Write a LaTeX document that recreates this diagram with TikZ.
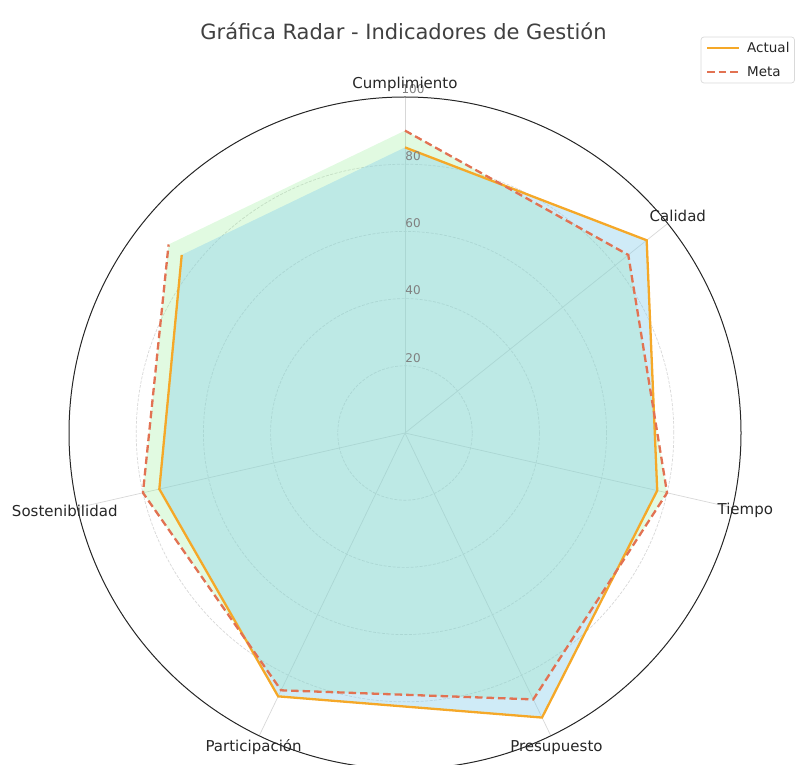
\documentclass[tikz,border=0pt]{standalone}
\usepackage{fontspec}
\setmainfont{DejaVu Sans}
\definecolor{actualc}{RGB}{245,168,40}
\definecolor{metac}{RGB}{226,114,82}
\definecolor{bluef}{RGB}{135,206,235}
\definecolor{greenf}{RGB}{144,238,144}
\definecolor{gridc}{RGB}{215,215,215}
\definecolor{labc}{RGB}{38,38,38}
\tikzset{
  gridcirc/.style={draw=gridc, line width=0.7pt, dash pattern=on 3pt off 1.5pt},
  gridray/.style={draw=gridc, line width=0.7pt},
  spine/.style={draw=black!85, line width=1pt},
  actualline/.style={draw=actualc, line width=2.3pt, line join=miter},
  metaline/.style={draw=metac, line width=2.3pt, dash pattern=on 7.5pt off 4pt, line join=miter},
  axlabel/.style={font=\fontsize{15}{18}\selectfont, text=labc, inner sep=0pt},
  ticklabel/.style={font=\fontsize{12}{14}\selectfont, text=gray, inner sep=0pt},
  legtext/.style={font=\fontsize{13.5}{16}\selectfont, text=labc, inner sep=0pt, anchor=west}
}
\begin{document}
\begin{tikzpicture}[x=1pt,y=1pt]
\useasboundingbox (0,0) rectangle (795,764);
\def\S{3.36}
% title
\node[font=\fontsize{21}{25}\selectfont, text=black!75, inner sep=0pt] (title) at (403.5,733) {Gráfica Radar - Indicadores de Gestión};
\begin{scope}[shift={(405,331)}]
  % grid circles
  \foreach \r in {20,40,60,80}{
    \draw[gridcirc] (0,0) circle ({\r*\S});
  }
  % radial grid lines
  \foreach \a in {90,38.5714,-12.8571,-64.2857,-115.7143,-167.1429}{
    \draw[gridray] (0,0) -- (\a:{100*\S});
  }
  % fills
  \fill[greenf, opacity=0.27] (90:{90*\S}) -- (38.5714:{85*\S}) -- (-12.8571:{80*\S}) -- (-64.2857:{88*\S}) -- (-115.7143:{85*\S}) -- (-167.1429:{80*\S}) -- (141.4286:{90*\S}) -- cycle;
  \fill[bluef, opacity=0.4] (90:{85*\S}) -- (38.5714:{92*\S}) -- (-12.8571:{77*\S}) -- (-64.2857:{94*\S}) -- (-115.7143:{87*\S}) -- (-167.1429:{75*\S}) -- (141.4286:{85*\S}) -- cycle;
  % lines (open)
  \draw[actualline] (90:{85*\S}) -- (38.5714:{92*\S}) -- (-12.8571:{77*\S}) -- (-64.2857:{94*\S}) -- (-115.7143:{87*\S}) -- (-167.1429:{75*\S}) -- (141.4286:{85*\S});
  \draw[metaline] (90:{90*\S}) -- (38.5714:{85*\S}) -- (-12.8571:{80*\S}) -- (-64.2857:{88*\S}) -- (-115.7143:{85*\S}) -- (-167.1429:{80*\S}) -- (141.4286:{90*\S});
  % outer spine
  \draw[spine] (0,0) circle ({100*\S});
  % tick labels
  \node[ticklabel] (t20) at (8,{20*\S+8}) {20};
  \node[ticklabel] (t40) at (8,{40*\S+8}) {40};
  \node[ticklabel] (t60) at (8,{60*\S+8}) {60};
  \node[ticklabel] (t80) at (8,{80*\S+8}) {80};
  \node[ticklabel] (t100) at (8,{100*\S+8}) {100};
  % axis labels
  \node[axlabel] (l1) at (90:349) {Cumplimiento};
  \node[axlabel] (l2) at (38.5714:349) {Calidad};
  \node[axlabel] (l3) at (-12.8571:349) {Tiempo};
  \node[axlabel] (l4) at (-64.2857:349) {Presupuesto};
  \node[axlabel] (l5) at (-115.7143:349) {Participación};
  \node[axlabel] (l6) at (-167.1429:349) {Sostenibilidad};
\end{scope}
% legend
\draw[draw=gray!30, fill=white, rounded corners=3pt, line width=0.7pt] (701,681) rectangle (794.5,727);
\coordinate (la1) at (707,716);
\coordinate (la2) at (739,716);
\coordinate (lb1) at (707,692);
\coordinate (lb2) at (739,692);
\draw[actualline] (la1) -- (la2);
\draw[metaline] (lb1) -- (lb2);
\node[legtext] (legA) at (747,716.5) {Actual};
\node[legtext] (legM) at (747,692.5) {Meta};
\end{tikzpicture}
\end{document}
